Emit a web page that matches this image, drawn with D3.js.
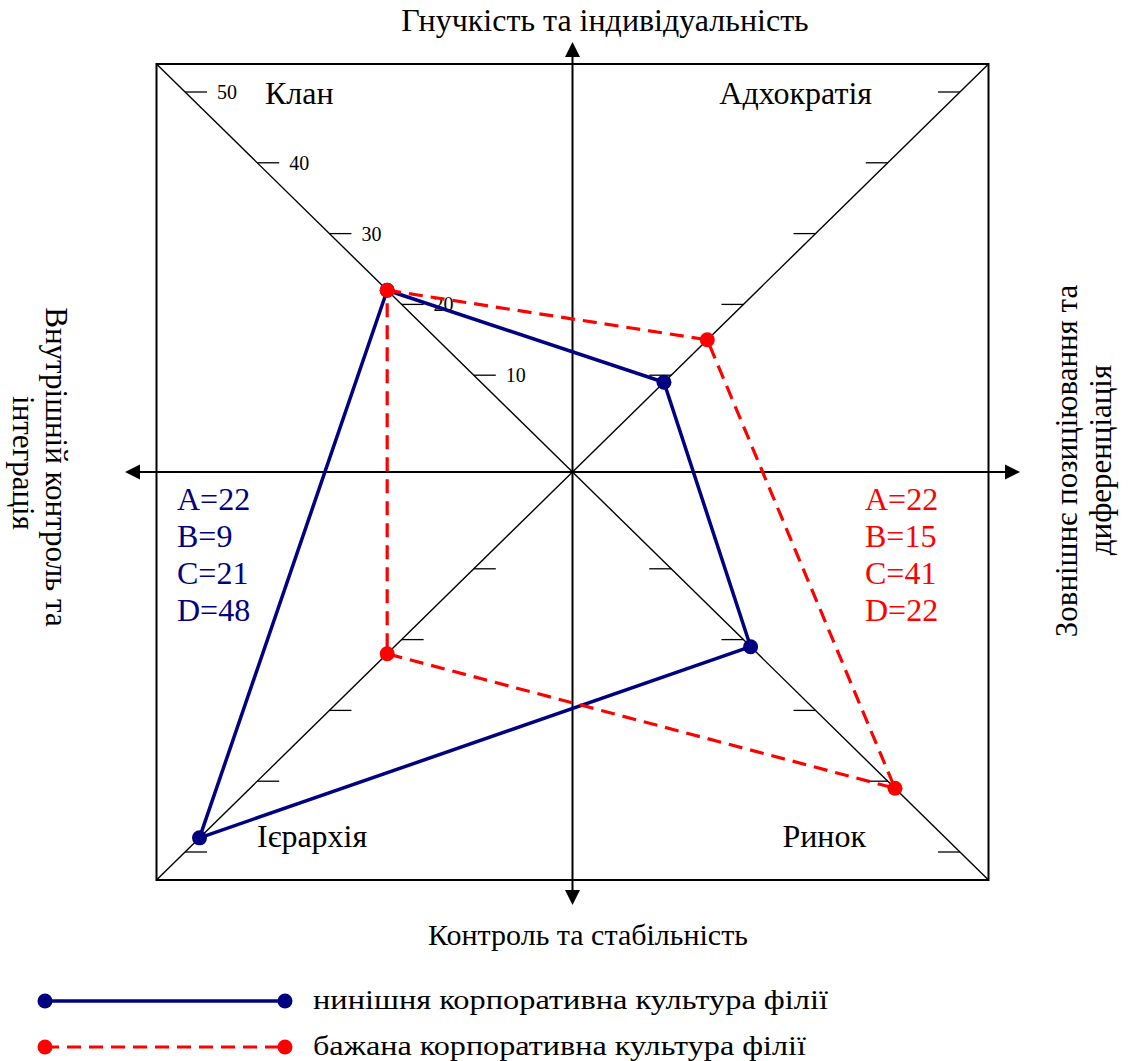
<!DOCTYPE html>
<html>
<head>
<meta charset="utf-8">
<script src="https://cdn.jsdelivr.net/npm/d3@7"></script>
<style>
  body { margin: 0; background: #fff; }
  svg text { font-family: "Liberation Serif", "Times New Roman", serif; }
</style>
</head>
<body>
<div id="chart"></div>
<script>
// quadrants go A (top-left), B (top-right), C (bottom-right), D (bottom-left)
var quadrants = ["Клан", "Адхократія", "Ринок", "Ієрархія"];
var keys = ["A", "B", "C", "D"];
var current = [22, 9, 21, 48];   // нинішня
var desired = [22, 15, 41, 22];  // бажана
var tickValues = [10, 20, 30, 40, 50];
var axisTop = "Гнучкість та індивідуальність";
var axisBottom = "Контроль та стабільність";
var axisLeft = ["Внутрішній контроль та", "інтеграція"];
var axisRight = ["Зовнішнє позиціювання та", "диференціація"];
var legendLabels = ["нинішня корпоративна культура філії", "бажана корпоративна культура філії"];

var W = 1135, H = 1061;
var navy = "#000080", red = "#ff0000";

var svg = d3.select("#chart").append("svg")
       .attr("width", W).attr("height", H);

// square frame
var x0 = 156.5, x1 = 988.5, y0 = 64, y1 = 880;
var cx = (x0 + x1) / 2, cy = (y0 + y1) / 2;
var kx = (x1 - x0) / (y1 - y0);

// distance from centre (vertical px) along each diagonal
var r = d3.scaleLinear().domain([0, 50]).range([26, 380]);

var dirs = [[-1, -1], [1, -1], [1, 1], [-1, 1]];

function pos(v, i) {
       var d = dirs[i];
       return [cx + d[0] * r(v) * kx, cy + d[1] * r(v)];
}

svg.append("rect")
       .attr("x", x0).attr("y", y0)
       .attr("width", x1 - x0).attr("height", y1 - y0)
       .style("fill", "none").style("stroke", "#000").style("stroke-width", 2);

// diagonals
svg.append("line").attr("x1", x0).attr("y1", y0).attr("x2", x1).attr("y2", y1)
       .style("stroke", "#000").style("stroke-width", 1.4);
svg.append("line").attr("x1", x0).attr("y1", y1).attr("x2", x1).attr("y2", y0)
       .style("stroke", "#000").style("stroke-width", 1.4);

// arrows
var ah = 15, aw = 7.5;
function arrowLine(xa, ya, xb, yb) {
       svg.append("line").attr("x1", xa).attr("y1", ya).attr("x2", xb).attr("y2", yb)
              .style("stroke", "#000").style("stroke-width", 2);
}
arrowLine(125 + ah, cy, 1020 - ah, cy);
arrowLine(cx, 42 + ah, cx, 905 - ah);
var heads = [
       [[125, cy], [125 + ah, cy - aw], [125 + ah, cy + aw]],
       [[1020, cy], [1020 - ah, cy - aw], [1020 - ah, cy + aw]],
       [[cx, 42], [cx - aw, 42 + ah], [cx + aw, 42 + ah]],
       [[cx, 905], [cx - aw, 905 - ah], [cx + aw, 905 - ah]]
];
svg.selectAll("path.head").data(heads).enter().append("path")
       .attr("class", "head")
       .attr("d", function (d) { return "M" + d.join("L") + "Z"; })
       .style("fill", "#000");

// ticks on diagonals, all pointing toward the vertical axis
dirs.forEach(function (d, i) {
       var g = svg.append("g");
       g.selectAll("line").data(tickValues).enter().append("line")
              .attr("x1", function (v) { return pos(v, i)[0]; })
              .attr("x2", function (v) { return pos(v, i)[0] - d[0] * 22; })
              .attr("y1", function (v) { return pos(v, i)[1]; })
              .attr("y2", function (v) { return pos(v, i)[1]; })
              .style("stroke", "#000").style("stroke-width", 1.3);
       if (i == 0) {
              g.selectAll("text").data(tickValues).enter().append("text")
                     .attr("x", function (v) { return pos(v, i)[0] + 32; })
                     .attr("y", function (v) { return pos(v, i)[1] + 7; })
                     .style("font-size", "20px")
                     .text(function (v) { return v; });
       }
});

// quadrant names
var qPos = [[265, 104, "start"], [872, 104, "end"], [866, 847, "end"], [257, 847, "start"]];
svg.selectAll("text.quad").data(quadrants).enter().append("text")
       .attr("class", "quad")
       .attr("x", function (d, i) { return qPos[i][0]; })
       .attr("y", function (d, i) { return qPos[i][1]; })
       .attr("text-anchor", function (d, i) { return qPos[i][2]; })
       .style("font-size", "32px")
       .text(function (d) { return d; });

// axis titles
svg.append("text").attr("x", 605).attr("y", 31).attr("text-anchor", "middle")
       .style("font-size", "32px").text(axisTop);
svg.append("text").attr("x", 588).attr("y", 945).attr("text-anchor", "middle")
       .style("font-size", "30px").text(axisBottom);
[[46, 467], [13, 463]].forEach(function (p, i) {
       svg.append("text")
              .attr("transform", "translate(" + p[0] + "," + p[1] + ") rotate(90)")
              .attr("text-anchor", "middle")
              .style("font-size", "31px").text(axisLeft[i]);
});
[[1077, 461], [1111, 460]].forEach(function (p, i) {
       svg.append("text")
              .attr("transform", "translate(" + p[0] + "," + p[1] + ") rotate(-90)")
              .attr("text-anchor", "middle")
              .style("font-size", "31px").text(axisRight[i]);
});

// value lists
function valueList(vals, x, colour) {
       svg.append("g").selectAll("text").data(vals).enter().append("text")
              .attr("x", x)
              .attr("y", function (d, i) { return 510 + i * 37; })
              .style("font-size", "32px")
              .style("fill", colour)
              .text(function (d, i) { return keys[i] + "=" + d; });
}
valueList(current, 177, navy);
valueList(desired, 865, red);

// profiles
var line = d3.line().curve(d3.curveLinearClosed);
var curPts = current.map(pos);
var desPts = desired.map(pos);

svg.append("path").attr("d", line(curPts))
       .style("fill", "none").style("stroke", navy).style("stroke-width", 3.5)
       .style("stroke-linejoin", "round");
svg.append("path").attr("d", line(desPts))
       .style("fill", "none").style("stroke", red).style("stroke-width", 3.2)
       .style("stroke-dasharray", "14,8");

svg.append("g").selectAll("circle").data(curPts).enter().append("circle")
       .attr("cx", function (d) { return d[0]; }).attr("cy", function (d) { return d[1]; })
       .attr("r", 7.5).style("fill", navy);
svg.append("g").selectAll("circle").data(desPts).enter().append("circle")
       .attr("cx", function (d) { return d[0]; }).attr("cy", function (d) { return d[1]; })
       .attr("r", 7.5).style("fill", red);

// legend
var legend = [
       { y: 1001, colour: navy, dash: null, w: 3.5, tl: 515 },
       { y: 1047, colour: red, dash: "14,8", w: 3.2, tl: 493 }
];
legend.forEach(function (l, i) {
       svg.append("line").attr("x1", 45).attr("x2", 285).attr("y1", l.y).attr("y2", l.y)
              .style("stroke", l.colour).style("stroke-width", l.w)
              .style("stroke-dasharray", l.dash);
       svg.selectAll(null).data([45, 285]).enter().append("circle")
              .attr("cx", function (d) { return d; }).attr("cy", l.y)
              .attr("r", 7.5).style("fill", l.colour);
       svg.append("text").attr("x", 313).attr("y", l.y + 8)
              .attr("textLength", l.tl).attr("lengthAdjust", "spacingAndGlyphs")
              .style("font-size", "27px")
              .text(legendLabels[i]);
});
</script>
</body>
</html>
